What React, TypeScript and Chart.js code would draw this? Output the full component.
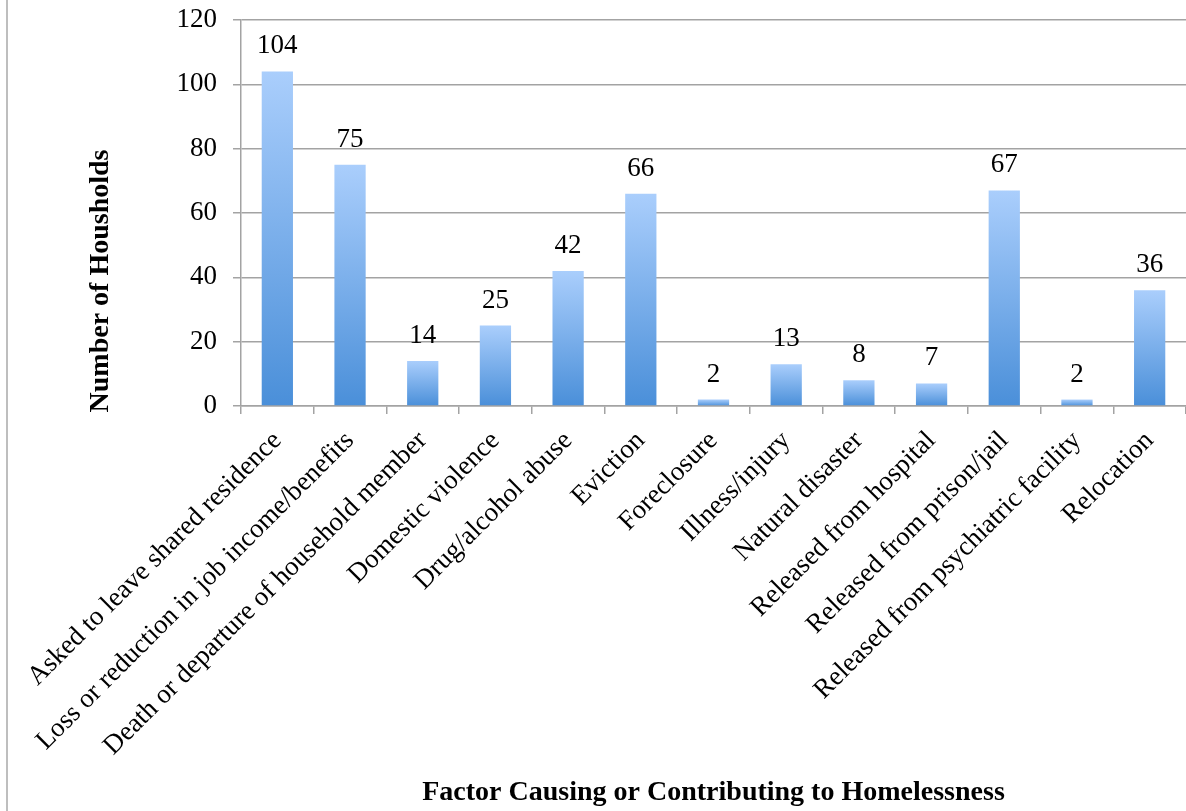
import React, { useEffect, useRef } from "react";
import { Chart, registerables } from "chart.js";

Chart.register(...registerables);

const categories: string[] = [
  "Asked to leave shared residence",
  "Loss or reduction in job income/benefits",
  "Death or departure of household member",
  "Domestic violence",
  "Drug/alcohol abuse",
  "Eviction",
  "Foreclosure",
  "Illness/injury",
  "Natural disaster",
  "Released from hospital",
  "Released from prison/jail",
  "Released from psychiatric facility",
  "Relocation",
];

const households: number[] = [104, 75, 14, 25, 42, 66, 2, 13, 8, 7, 67, 2, 36];

const yTicks: number[] = [0, 20, 40, 60, 80, 100, 120];

const xTitle = "Factor Causing or Contributing to Homelessness";
const yTitle = "Number of Housholds";

const FONT = "'Liberation Serif', 'Times New Roman', serif";
const GRID = "#a3a3a3";

const W = 1186;
const H = 811;

export default function App() {
  const ref = useRef<HTMLCanvasElement | null>(null);

  useEffect(() => {
    const canvas = ref.current;
    if (!canvas) return;

    const frame = {
      id: "frame",
      beforeDraw(chart: any) {
        const ctx = chart.ctx;
        ctx.save();
        ctx.fillStyle = "#ffffff";
        ctx.fillRect(0, 0, chart.width, chart.height);
        ctx.strokeStyle = "#a8a8a8";
        ctx.lineWidth = 1.5;
        ctx.beginPath();
        ctx.moveTo(7, 0);
        ctx.lineTo(7, chart.height);
        ctx.stroke();
        ctx.restore();
      },
    };

    const valueLabels = {
      id: "valueLabels",
      afterDatasetsDraw(chart: any) {
        const ctx = chart.ctx;
        const meta = chart.getDatasetMeta(0);
        ctx.save();
        ctx.font = `27px ${FONT}`;
        ctx.fillStyle = "#000000";
        ctx.textAlign = "center";
        ctx.textBaseline = "alphabetic";
        meta.data.forEach((bar: any, i: number) => {
          ctx.fillText(String(households[i]), bar.x, bar.y - 18);
        });
        // y axis title
        ctx.translate(101, 281);
        ctx.rotate(-Math.PI / 2);
        ctx.font = `bold 28px ${FONT}`;
        ctx.textAlign = "center";
        ctx.textBaseline = "middle";
        ctx.fillText(yTitle, 0, 0);
        ctx.restore();
      },
    };

    const chart = new Chart(canvas, {
      type: "bar",
      data: {
        labels: categories,
        datasets: [
          {
            label: yTitle,
            data: households,
            barPercentage: 0.43,
            categoryPercentage: 1,
            borderWidth: 0,
            backgroundColor: (c: any) => {
              const ch = c.chart;
              const y = ch.scales && ch.scales.y;
              if (!ch.chartArea || !y || typeof c.raw !== "number") return "#7fb0ec";
              const top = y.getPixelForValue(c.raw);
              const bot = y.getPixelForValue(0);
              if (!isFinite(top) || !isFinite(bot) || top === bot) return "#7fb0ec";
              const g = ch.ctx.createLinearGradient(0, top, 0, bot);
              g.addColorStop(0, "#aacefc");
              g.addColorStop(1, "#4a8fd9");
              return g;
            },
          },
        ],
      },
      options: {
        responsive: false,
        animation: false,
        layout: { padding: { top: 20, left: 0, right: 0, bottom: 0 } },
        plugins: {
          legend: { display: false },
          tooltip: { enabled: false },
          title: { display: false },
        },
        scales: {
          x: {
            afterFit: (s: any) => {
              s.height = H - 406;
              s.paddingRight = 0;
            },
            grid: {
              display: true,
              drawOnChartArea: false,
              drawTicks: true,
              tickLength: 8,
              color: GRID,
              lineWidth: 1.5,
              offset: true,
            },
            border: { display: true, color: GRID, width: 1.5 },
            ticks: {
              autoSkip: false,
              maxRotation: 45,
              minRotation: 45,
              padding: 11,
              color: "#000000",
              font: { family: FONT, size: 27 },
            },
            title: {
              display: true,
              text: xTitle,
              color: "#000000",
              font: { family: FONT, size: 28, weight: "bold" },
              padding: { top: 0, bottom: 1 },
            },
          },
          y: {
            min: 0,
            max: 120,
            afterFit: (s: any) => {
              s.width = 241;
              s.paddingTop = 0;
              s.paddingBottom = 0;
            },
            afterBuildTicks: (s: any) => {
              s.ticks = yTicks.map((v) => ({ value: v }));
            },
            grid: {
              color: GRID,
              lineWidth: 1.5,
              tickLength: 8,
              drawTicks: true,
            },
            border: { display: true, color: GRID, width: 1.5 },
            ticks: {
              padding: 16,
              color: "#000000",
              font: { family: FONT, size: 27 },
            },
          },
        },
      },
      plugins: [frame, valueLabels],
    } as any);

    return () => {
      chart.destroy();
    };
  }, []);

  return (
    <div style={{ position: "fixed", left: 0, top: 0, width: W, height: H, background: "#fff" }}>
      <canvas ref={ref} width={W} height={H} style={{ display: "block", width: W, height: H }} />
    </div>
  );
}
